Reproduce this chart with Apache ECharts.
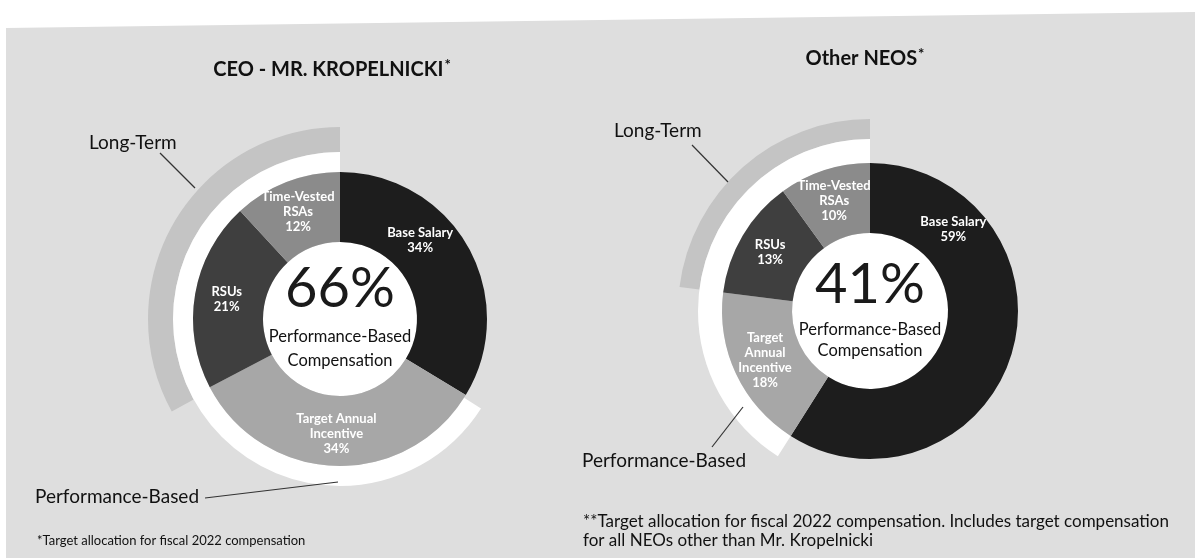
<!DOCTYPE html>
<html>
<head>
<meta charset="utf-8">
<script src="https://cdn.jsdelivr.net/npm/echarts@6/dist/echarts.min.js"></script>
<style>
html, body { margin: 0; padding: 0; background: #fff; }
#chart { width: 1195px; height: 558px; }
</style>
</head>
<body>
<div id="chart"></div>
<script>
// slices, clockwise from 12 o'clock
var segments = ['Base Salary', 'Target Annual Incentive', 'RSUs', 'Time-Vested RSAs'];
var ceoValues = [34, 34, 21, 12];
var neoValues = [59, 18, 13, 10];
var ceoLabels = ['Base Salary', 'Target Annual\nIncentive', 'RSUs', 'Time-Vested\nRSAs'];
var neoLabels = ['Base Salary', 'Target\nAnnual\nIncentive', 'RSUs', 'Time-Vested\nRSAs'];
// outer arcs (counter-clockwise from 12 o'clock)
var ceoPerformance = 66;
var neoPerformance = 41;
var ceoLongTerm = ceoValues[2] + ceoValues[3];
var neoLongTerm = neoValues[2] + neoValues[3];

var segColors = ['#1d1d1d', '#a7a7a7', '#3f3f3f', '#8b8b8b'];
var font = 'Lato, "Open Sans", sans-serif';

var chart = echarts.init(document.getElementById('chart'));

function donut(values, labels, center, radius, shift) {
    return {
        type: 'pie',
        center: center,
        radius: radius,
        startAngle: 90,
        clockwise: true,
        silent: true,
        avoidLabelOverlap: false,
        label: {
            show: true,
            position: 'inside',
            color: '#fff',
            fontFamily: font,
            fontWeight: 'bold',
            fontSize: 13,
            lineHeight: 15,
            formatter: function (p) {
                return labels[p.dataIndex] + '\n' + p.value + '%';
            }
        },
        labelLine: { show: false },
        labelLayout: function (p) {
            // base salary label sits higher than the slice middle
            return p.dataIndex === 0 ? shift : {};
        },
        itemStyle: { borderWidth: 0 },
        data: segments.map(function (name, i) {
            return { name: name, value: values[i], itemStyle: { color: segColors[i] } };
        })
    };
}

function arc(value, center, radius, color) {
    return {
        type: 'pie',
        center: center,
        radius: radius,
        startAngle: 90,
        clockwise: false,
        silent: true,
        label: { show: false },
        labelLine: { show: false },
        data: [
            { value: value, itemStyle: { color: color } },
            { value: 100 - value, itemStyle: { color: 'rgba(0,0,0,0)' } }
        ]
    };
}

function hole(center, r) {
    return {
        type: 'pie',
        center: center,
        radius: [0, r],
        silent: true,
        label: { show: false },
        labelLine: { show: false },
        data: [{ value: 1, itemStyle: { color: '#fff' } }]
    };
}

function txt(x, y, text, size, opts) {
    opts = opts || {};
    return {
        type: 'text',
        x: x,
        y: y,
        z: 20,
        style: {
            text: text,
            fill: opts.fill || '#111',
            font: (opts.weight || 'normal') + ' ' + size + 'px ' + font,
            align: opts.align || 'left',
            verticalAlign: 'middle'
        }
    };
}

function line(x1, y1, x2, y2) {
    return {
        type: 'line',
        z: 20,
        shape: { x1: x1, y1: y1, x2: x2, y2: y2 },
        style: { stroke: '#333', lineWidth: 1.2 }
    };
}

function title(x, y, text) {
    return {
        type: 'text', x: x, y: y, z: 20,
        style: {
            text: '{t|' + text + '}{s|*}',
            align: 'center', verticalAlign: 'middle',
            rich: {
                t: { font: 'bold 20px ' + font, fill: '#111' },
                s: { font: 'bold 15px ' + font, fill: '#111', verticalAlign: 'top', padding: [0, 0, 10, 1] }
            }
        }
    };
}

var ceoCenter = [340, 319];
var neoCenter = [870, 311];

chart.setOption({
    animation: false,
    graphic: [
        {
            type: 'polygon',
            z: -10,
            shape: { points: [[6, 28], [1195, 12], [1195, 558], [6, 558]] },
            style: { fill: '#dedede' }
        },
        title(332, 70, 'CEO - MR. KROPELNICKI'),
        title(865, 59, 'Other NEOS'),
        // centre captions
        txt(340, 289, ceoPerformance + '%', 56, { align: 'center', fill: '#1a1a1a' }),
        txt(340, 337, 'Performance-Based', 16.5, { align: 'center' }),
        txt(340, 361, 'Compensation', 16.5, { align: 'center' }),
        txt(870, 285, neoPerformance + '%', 56, { align: 'center', fill: '#1a1a1a' }),
        txt(870, 330, 'Performance-Based', 16.5, { align: 'center' }),
        txt(870, 351, 'Compensation', 16.5, { align: 'center' }),
        // arc callouts
        txt(89, 143, 'Long-Term', 19),
        line(160, 153, 195, 188),
        txt(35, 497, 'Performance-Based', 19),
        line(205, 498, 338, 482),
        txt(614, 131, 'Long-Term', 19),
        line(692, 145, 728, 182),
        txt(582, 461, 'Performance-Based', 19),
        line(712, 447, 743, 407),
        // footnotes
        txt(37, 541, '*Target allocation for fiscal 2022 compensation', 13),
        txt(583, 522, '**Target allocation for fiscal 2022 compensation. Includes target compensation', 17),
        txt(583, 541, 'for all NEOs other than Mr. Kropelnicki', 17)
    ],
    series: [
        arc(ceoLongTerm, ceoCenter, [167, 192], '#c4c4c4'),
        arc(ceoPerformance, ceoCenter, [147, 167], '#ffffff'),
        hole(ceoCenter, 77),
        donut(ceoValues, ceoLabels, ceoCenter, [77, 147], { dx: -20, dy: -22 }),
        arc(neoLongTerm, neoCenter, [172, 192], '#c4c4c4'),
        arc(neoPerformance, neoCenter, [148, 172], '#ffffff'),
        hole(neoCenter, 78),
        donut(neoValues, neoLabels, neoCenter, [78, 148], { dx: -28, dy: -114 })
    ]
});
</script>
</body>
</html>
